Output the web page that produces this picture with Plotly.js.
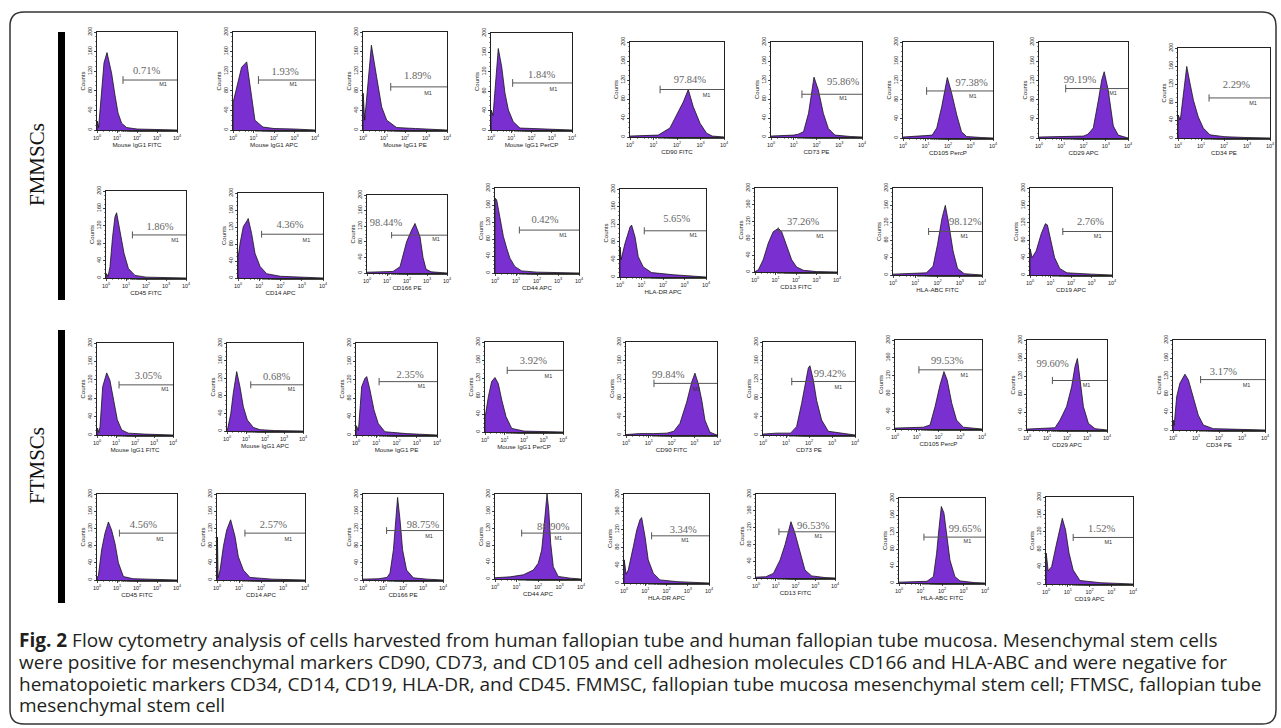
<!DOCTYPE html>
<html><head><meta charset="utf-8">
<script src="https://cdn.plot.ly/plotly-3.0.1.min.js"></script>
<style>html,body{margin:0;padding:0;background:#fff}#chart{width:1281px;height:728px}</style>
</head><body><div id="chart"></div>
<script>
// ================= DATA =================
// Row A: FMMSCs, first line
const rowA_labels = ['Mouse IgG1 FITC','Mouse IgG1 APC','Mouse IgG1 PE','Mouse IgG1 PerCP','CD90 FITC','CD73 PE','CD105 PercP','CD29 APC','CD34 PE'];
const rowA_pct = ['0.71%','1.93%','1.89%','1.84%','97.84%','95.86%','97.38%','99.19%','2.29%'];
const rowA_gateStart = [1.3,1.24,1.32,1.07,1.28,1.36,1.05,1.2,1.35];   // log10 fluorescence
const rowA_gateY = [102,102,88,97,100,90,98,103,89];
const rowA_curveX = [
 [0,0.02,0.08,0.18,0.35,0.5,0.73,0.9,1.05,1.23,1.48,2,3,4],
 [0,0.01,0.2,0.42,0.67,0.91,1.07,1.46,2,3,4],
 [0,0.01,0.08,0.17,0.4,0.65,0.89,1.13,1.6,2.5,3.5,4],
 [0,0.01,0.1,0.2,0.36,0.53,0.69,0.86,1.1,1.43,2.5,4],
 [0,0.5,1.2,1.7,1.99,2.27,2.48,2.69,2.98,3.26,3.5,4],
 [0,0.6,1.0,1.2,1.43,1.65,1.8,1.89,2.08,2.3,2.52,2.81,3.5,4],
 [0,0.6,1.0,1.3,1.5,1.72,1.87,1.97,2.16,2.39,2.6,2.83,3.5,4],
 [0,1,2.0,2.2,2.44,2.67,2.82,2.93,3.11,3.34,3.56,4],
 [0,0.01,0.1,0.2,0.3,0.38,0.52,0.67,0.88,1.1,1.39,2,3,4]
];
const rowA_curveY = [
 [0,18,5,60,137,158,116,71,35,14,5,2,1,0],
 [0,57,90,128,139,61,20,6,3,2,0],
 [0,75,20,60,173,108,47,20,5,3,2,0],
 [0,41,30,80,168,130,76,41,17,4,2,0],
 [2,3,4,19,46,74,100,64,29,8,2,0],
 [2,3,4,6,11,50,99,126,99,50,18,4,1,0],
 [2,3,5,6,21,65,107,126,94,48,13,3,1,0],
 [2,3,4,8,21,79,121,138,100,25,6,0],
 [0,51,40,84,136,159,122,84,47,22,7,3,1,0]
];
// Row B: FMMSCs, second line
const rowB_labels = ['CD45 FITC','CD14 APC','CD166 PE','CD44 APC','HLA-DR APC','CD13 FITC','HLA-ABC FITC','CD19 APC'];
const rowB_pct = ['1.86%','4.36%','98.44%','0.42%','5.65%','37.26%','98.12%','2.76%'];
const rowB_gateStart = [1.32,1.11,1.23,1.16,1.13,1.14,1.6,1.6];
const rowB_gateY = [99,103,97,101,105,98,100,100];
const rowB_curveX = [
 [0,0.03,0.1,0.2,0.33,0.45,0.53,0.7,0.9,1.12,1.45,2,3,4],
 [0,0.01,0.1,0.25,0.44,0.48,0.64,0.8,1.04,1.35,2,3,4],
 [0,0.5,1,1.3,1.65,1.98,2.23,2.4,2.65,2.8,2.95,3.2,4],
 [0,0.01,0.08,0.24,0.4,0.56,0.71,0.95,1.27,2,3,4],
 [0,0.01,0.05,0.23,0.47,0.54,0.7,0.85,1.08,1.47,2.5,3.3,4],
 [0,0.16,0.4,0.65,0.89,1.14,1.3,1.55,1.79,2.03,2.36,3,4],
 [0,1,1.5,1.8,2.0,2.2,2.35,2.5,2.7,2.9,3.2,4],
 [0,0.01,0.1,0.3,0.55,0.75,0.85,1.0,1.2,1.45,1.8,3,4]
];
const rowB_curveY = [
 [0,10,3,26,95,141,150,110,57,22,6,2,1,0],
 [0,50,82,121,136,140,105,58,27,10,4,2,0],
 [2,3,3,4,16,80,110,127,93,40,10,3,0],
 [0,176,172,133,86,58,35,15,5,2,1,0],
 [0,68,39,76,114,118,91,46,23,10,5,2,0],
 [1,5,29,69,96,104,96,60,29,12,4,1,0],
 [2,3,5,20,70,130,160,120,55,15,3,0],
 [0,60,40,55,95,118,115,80,40,15,5,2,0]
];
// Row C: FTMSCs, first line
const rowC_labels = ['Mouse IgG1 FITC','Mouse IgG1 APC','Mouse IgG1 PE','Mouse IgG1 PerCP','CD90 FITC','CD73 PE','CD105 PercP','CD29 APC','CD34 PE'];
const rowC_pct = ['3.05%','0.68%','2.35%','3.92%','99.84%','99.42%','99.53%','99.60%','3.17%'];
const rowC_gateStart = [1.16,1.25,1.14,1.14,1.23,1.25,1.1,1.27,1.2];
const rowC_gateY = [109,105,116,137,111,115,133,110,112];
const rowC_curveX = [
 [0,0.03,0.1,0.16,0.3,0.42,0.51,0.68,0.86,1.07,1.3,1.65,2.5,4],
 [0,0.05,0.2,0.33,0.51,0.68,0.86,1.07,1.39,1.74,2.5,4],
 [0,0.02,0.12,0.28,0.44,0.53,0.69,0.89,1.1,1.43,2.5,3.5,4],
 [0,0.01,0.17,0.34,0.51,0.68,0.86,1.08,1.37,2,4],
 [0,0.6,1.2,1.8,2.1,2.37,2.67,2.89,3.03,3.18,3.33,3.47,3.69,4],
 [0,0.6,1.2,1.46,1.68,1.83,1.97,2.04,2.19,2.33,2.55,2.84,3.5,4],
 [0,0.8,1.3,1.61,1.84,2.07,2.25,2.4,2.61,2.83,3.14,4],
 [0,0.8,1.4,1.65,1.98,2.23,2.4,2.52,2.65,2.82,3.07,3.4,4],
 [0,0.01,0.05,0.16,0.3,0.52,0.67,0.88,1.1,1.32,1.75,2.5,4]
];
const rowC_curveY = [
 [0,15,5,18,105,123,135,119,76,33,11,4,2,0],
 [0,8,40,86,135,101,55,25,8,3,1,0],
 [0,20,10,105,123,127,98,54,25,7,3,2,0],
 [0,34,78,112,121,108,71,34,8,2,0],
 [1,3,3,4,8,25,71,114,133,110,75,32,6,0],
 [2,4,4,18,68,111,144,149,118,75,32,8,3,0],
 [2,3,4,9,50,99,129,110,58,20,4,0],
 [2,3,5,22,52,96,141,159,111,52,15,3,0],
 [0,22,10,74,104,124,111,74,33,11,3,2,0]
];
// Row D: FTMSCs, second line
const rowD_labels = ['CD45 FITC','CD14 APC','CD166 PE','CD44 APC','HLA-DR APC','CD13 FITC','HLA-ABC FITC','CD19 APC'];
const rowD_pct = ['4.56%','2.57%','98.75%','88.90%','3.34%','96.53%','99.65%','1.52%'];
const rowD_gateStart = [1.12,1.27,1.18,1.24,1.3,1.16,1.16,1.25];
const rowD_gateY = [109,109,115,108,106,110,108,107];
const rowD_curveX = [
 [0,0.02,0.07,0.23,0.4,0.57,0.73,0.9,1.07,1.32,1.8,2.5,4],
 [0,0.02,0.05,0.14,0.29,0.44,0.62,0.82,0.97,1.2,1.5,2.5,4],
 [0,0.8,1.2,1.35,1.52,1.6,1.68,1.73,1.85,1.98,2.18,2.52,3.2,4],
 [0,0.7,1.32,1.78,2.01,2.17,2.28,2.36,2.42,2.5,2.59,2.71,2.94,3.5,4],
 [0,0.01,0.1,0.2,0.44,0.6,0.75,0.83,0.99,1.14,1.38,1.69,2.5,4],
 [0,0.5,0.88,1.22,1.47,1.64,1.77,1.97,2.23,2.48,2.82,3.5,4],
 [0,0.8,1.3,1.6,1.75,1.87,1.97,2.09,2.22,2.37,2.6,2.84,3.5,4],
 [0,0.01,0.1,0.26,0.49,0.64,0.75,0.9,1.06,1.25,1.56,2.5,4]
];
const rowD_curveY = [
 [0,8,10,70,109,135,116,85,40,8,3,2,0],
 [0,100,5,23,78,116,140,101,54,23,6,2,0],
 [2,3,6,16,70,124,178,192,140,70,23,5,2,0],
 [3,5,10,21,37,68,123,178,200,162,84,29,6,2,0],
 [0,52,20,29,82,119,142,147,104,52,22,7,3,0],
 [2,3,11,43,79,110,134,107,59,19,5,1,0],
 [2,3,4,15,70,133,180,165,110,54,15,5,1,0],
 [0,71,30,40,94,132,151,124,71,32,8,3,0]
];
const xTickVals = [1,10,100,1000,10000];
const xTickText = ['10<sup>0</sup>','10<sup>1</sup>','10<sup>2</sup>','10<sup>3</sup>','10<sup>4</sup>'];
const yTickVals = [0,40,80,120,160,200];
const gateName = 'M1';
const groupNames = ['FMMSCs','FTMSCs'];
const captionBold = 'Fig. 2';
const captionLines = [
 ' Flow cytometry analysis of cells harvested from human fallopian tube and human fallopian tube mucosa. Mesenchymal stem cells',
 'were positive for mesenchymal markers CD90, CD73, and CD105 and cell adhesion molecules CD166 and HLA-ABC and were negative for',
 'hematopoietic markers CD34, CD14, CD19, HLA-DR, and CD45. FMMSC, fallopian tube mucosa mesenchymal stem cell; FTMSC, fallopian tube',
 'mesenchymal stem cell'
];

// ================= LAYOUT (pixel boxes of each panel: x0,y0,x1,y1) =================
const W = 1281, H = 728;
const boxesA = [[97,32,177,130],[233,32,315,130],[363,32,447,130],[491,33,572,130],[630,42,724,137],[771,42,862,137],[903,42,993,138],[1039,42,1128,138],[1178,48,1270,138]];
const boxesB = [[106,191,186,278],[238,193,323,278],[367,195,447,273],[495,188,579,273],[620,189,706,277],[755,188,837,272],[893,188,982,275],[1030,188,1112,275]];
const boxesC = [[97,343,173,435],[227,343,303,431],[356,343,437,435],[485,342,563,432],[626,342,717,435],[763,342,855,435],[895,340,982,429],[1027,340,1107,430],[1173,340,1265,430]];
const boxesD = [[97,494,177,580],[217,494,305,580],[363,494,443,580],[495,494,581,579],[624,494,709,583],[756,494,835,578],[899,498,985,583],[1046,497,1133,584]];
// label placement inside each panel: [pctX(log10), pctY, m1X(log10), m1Y]
const textA = [[2.48,119,3.3,92],[2.54,118,2.94,92],[2.6,110,3.1,75],[2.5,113,3.08,83],[2.55,120,3.26,88],[3.17,116,3.17,80],[3.05,114,3.1,86],[1.84,121,3.33,92],[2.54,116,3.26,76]];
const textB = [[2.7,117,3.45,87],[2.45,125,3.22,88],[0.95,127,3.45,85],[2.38,125,3.24,87],[2.64,130,3.41,93],[2.35,118,3.17,84],[3.25,120,3.2,88],[2.95,120,3.3,88]];
const textC = [[2.7,127,3.58,98],[2.61,123,3.4,93],[2.67,130,3.24,105],[2.48,157,3.25,124],[1.86,129,3.1,98],[2.91,131,3.27,102],[2.4,151,3.19,119],[1.28,146,2.98,98],[2.19,129,3.2,98]];
const textD = [[2.32,128,3.15,95],[2.56,128,3.24,95],[3.0,128,3.3,100],[2.71,122,2.94,94],[2.79,119,2.87,95],[2.9,124,3.16,98],[3.07,126,3.18,97],[2.56,126,2.86,95]];

const FILL = '#7a2fd0';
const traces = [];
const layout = {
  width: W, height: H, margin: {l:0,r:0,t:0,b:0},
  paper_bgcolor: '#fff', plot_bgcolor: '#fff', showlegend: false,
  font: {family: 'Liberation Sans, Arial, sans-serif', color: '#222'},
  annotations: [], shapes: []
};
let n = 0;
function addPanel(box, label, pct, cx, cy, gs, gy, tp) {
  n++;
  const xa = n === 1 ? 'x' : 'x' + n, ya = n === 1 ? 'y' : 'y' + n;
  const xk = n === 1 ? 'xaxis' : 'xaxis' + n, yk = n === 1 ? 'yaxis' : 'yaxis' + n;
  layout[xk] = {
    domain: [box[0]/W, box[2]/W], anchor: ya, type: 'log', range: [0, 4],
    tickvals: xTickVals, ticktext: xTickText, tickfont: {size: 5.5, color: '#222'},
    ticks: 'outside', ticklen: 2, tickwidth: 0.8, tickcolor: '#222',
    showline: true, linecolor: '#222', linewidth: 1, mirror: true,
    showgrid: false, zeroline: false, fixedrange: true,
    minor: {ticks: 'outside', ticklen: 1.2, tickcolor: '#444', tickwidth: 0.6, showgrid: false},
    title: {text: label, font: {size: 6.2, color: '#222'}, standoff: 0}
  };
  layout[yk] = {
    domain: [1 - box[3]/H, 1 - box[1]/H], anchor: xa, range: [0, 200],
    tickvals: yTickVals, tickangle: -90, tickfont: {size: 5.5, color: '#222'},
    ticks: 'outside', ticklen: 2, tickwidth: 0.8, tickcolor: '#222',
    showline: true, linecolor: '#222', linewidth: 1, mirror: true,
    showgrid: false, zeroline: false, fixedrange: true,
    minor: {ticks: 'outside', dtick: 10, ticklen: 1.2, tickcolor: '#444', tickwidth: 0.6, showgrid: false},
    title: {text: 'Counts', font: {size: 6, color: '#222'}, standoff: 0}
  };
  traces.push({x: cx.map(v => Math.pow(10, v)), y: cy, xaxis: xa, yaxis: ya, type: 'scatter', mode: 'lines',
    fill: 'tozeroy', fillcolor: FILL, line: {color: '#151515', width: 0.8}, hoverinfo: 'skip'});
  traces.push({x: [Math.pow(10, gs), 10000], y: [gy, gy], xaxis: xa, yaxis: ya, type: 'scatter', mode: 'lines',
    line: {color: '#555', width: 1}, hoverinfo: 'skip', cliponaxis: false});
  traces.push({x: [Math.pow(10, gs), Math.pow(10, gs)], y: [gy - 8, gy + 8], xaxis: xa, yaxis: ya, type: 'scatter', mode: 'lines',
    line: {color: '#555', width: 1}, hoverinfo: 'skip'});
  traces.push({x: [Math.pow(10, tp[0])], y: [tp[1]], xaxis: xa, yaxis: ya, type: 'scatter', mode: 'text', text: [pct],
    textfont: {family: 'Liberation Serif, Times New Roman, serif', size: 10.5, color: '#666'}, cliponaxis: false, hoverinfo: 'skip'});
  traces.push({x: [Math.pow(10, tp[2])], y: [tp[3]], xaxis: xa, yaxis: ya, type: 'scatter', mode: 'text', text: [gateName],
    textfont: {size: 5.5, color: '#333'}, cliponaxis: false, hoverinfo: 'skip'});
}
function addRow(boxes, labels, pct, cxs, cys, gs, gy, tps) {
  for (let i = 0; i < boxes.length; i++) addPanel(boxes[i], labels[i], pct[i], cxs[i], cys[i], gs[i], gy[i], tps[i]);
}
addRow(boxesA, rowA_labels, rowA_pct, rowA_curveX, rowA_curveY, rowA_gateStart, rowA_gateY, textA);
addRow(boxesB, rowB_labels, rowB_pct, rowB_curveX, rowB_curveY, rowB_gateStart, rowB_gateY, textB);
addRow(boxesC, rowC_labels, rowC_pct, rowC_curveX, rowC_curveY, rowC_gateStart, rowC_gateY, textC);
addRow(boxesD, rowD_labels, rowD_pct, rowD_curveX, rowD_curveY, rowD_gateStart, rowD_gateY, textD);

// group labels and black bars
const px = p => p / W, py = p => 1 - p / H;
layout.annotations.push({xref:'paper', yref:'paper', x: px(37), y: py(165), xanchor:'center', yanchor:'middle', text: groupNames[0], showarrow:false, textangle:-90,
  font:{family:'Liberation Serif, Times New Roman, serif', size:21, color:'#111'}});
layout.annotations.push({xref:'paper', yref:'paper', x: px(37), y: py(466), xanchor:'center', yanchor:'middle', text: groupNames[1], showarrow:false, textangle:-90,
  font:{family:'Liberation Serif, Times New Roman, serif', size:21, color:'#111'}});
layout.shapes.push({type:'rect', xref:'paper', yref:'paper', x0: px(58), x1: px(65), y0: py(300), y1: py(32), fillcolor:'#000', line:{width:0}});
layout.shapes.push({type:'rect', xref:'paper', yref:'paper', x0: px(58), x1: px(65), y0: py(603), y1: py(330), fillcolor:'#000', line:{width:0}});
// outer rounded frame
(function(){
  const x0=10,y0=12,x1=1276,y1=724,r=14;
  const P=(a,b)=>px(a).toFixed(5)+','+py(b).toFixed(5);
  const d='M'+P(x0+r,y0)+' L'+P(x1-r,y0)+' Q'+P(x1,y0)+' '+P(x1,y0+r)+' L'+P(x1,y1-r)+' Q'+P(x1,y1)+' '+P(x1-r,y1)+
    ' L'+P(x0+r,y1)+' Q'+P(x0,y1)+' '+P(x0,y1-r)+' L'+P(x0,y0+r)+' Q'+P(x0,y0)+' '+P(x0+r,y0)+' Z';
  layout.shapes.push({type:'path', xref:'paper', yref:'paper', path:d, line:{color:'#333', width:1.5}});
})();
// caption
const capY = [640, 662, 684, 705];
captionLines.forEach((t, i) => {
  layout.annotations.push({xref:'paper', yref:'paper', x: px(17), y: py(capY[i]), xanchor:'left', yanchor:'middle', align:'left', showarrow:false,
    text: (i === 0 ? '<b>' + captionBold + '</b>' : '') + t,
    font:{family:'Open Sans, sans-serif', size:19, color:'#231f20'}});
});
Plotly.newPlot('chart', traces, layout, {displayModeBar:false, staticPlot:true});
</script></body></html>
